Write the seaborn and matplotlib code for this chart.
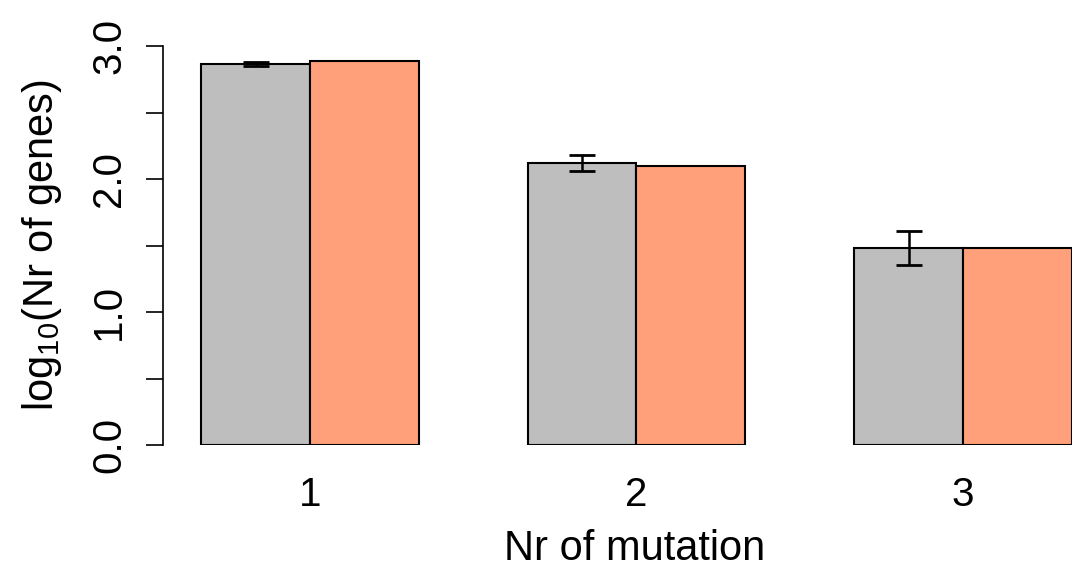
import matplotlib
matplotlib.use("Agg")
import matplotlib.pyplot as plt
import numpy as np
import pandas as pd
import seaborn as sns

# Data (log10 of gene counts)
mutations = ["1", "2", "3"]
groups = ["observed", "expected"]
observed = [2.865, 2.12, 1.48]
observed_err = [0.015, 0.06, 0.13]
expected = [2.887, 2.098, 1.48]
bar_colors = ["#BEBEBE", "#FFA07A"]

sns.set_theme(style="ticks")
plt.rcParams["font.family"] = ["Liberation Sans", "DejaVu Sans"]
plt.rcParams["mathtext.default"] = "regular"
plt.rcParams["text.color"] = "black"
plt.rcParams["axes.labelcolor"] = "black"
plt.rcParams["xtick.color"] = "black"
plt.rcParams["ytick.color"] = "black"

df = pd.DataFrame({
    "mutation": mutations * 2,
    "group": [groups[0]] * 3 + [groups[1]] * 3,
    "value": observed + expected,
})

fig = plt.figure(figsize=(10.72, 5.78), dpi=100)
ax = fig.add_axes([163 / 1072, (578 - 445) / 578, 1 - 163 / 1072, (445 - 46) / 578])

sns.barplot(data=df, x="mutation", y="value", hue="group", order=mutations,
            hue_order=groups, palette=bar_colors, width=2 / 3, errorbar=None,
            edgecolor="black", linewidth=1.5, saturation=1, legend=False, ax=ax)

# error bars on the grey bars, placed from the drawn patches
grey = ax.containers[0]
xs = [p.get_x() + p.get_width() / 2 for p in grey]
ax.errorbar(xs, observed, yerr=observed_err, fmt="none", ecolor="black",
            elinewidth=1.8, capsize=9.5, capthick=2, zorder=5)

ax.set_xlim(-0.45, 2.334)
ax.set_ylim(0, 3)
ax.set_yticks(np.arange(0, 3.01, 0.5))
ax.set_yticklabels(["0.0", "", "1.0", "", "2.0", "", "3.0"])
ax.tick_params(axis="y", labelrotation=90, length=12, width=1.2, pad=13,
               labelsize=29)
ax.tick_params(axis="x", length=0, pad=22, labelsize=29)
for lab in ax.get_yticklabels():
    lab.set_va("center")

ax.set_xlabel("Nr of mutation", fontsize=30)
ax.xaxis.set_label_coords(0.519, -0.21, transform=ax.transAxes)
ax.xaxis.label.set_va("top")
ax.set_ylabel("log$_{10}$(Nr of genes)", fontsize=30, labelpad=19)

for side in ["top", "right", "bottom"]:
    ax.spines[side].set_visible(False)
ax.spines["left"].set_linewidth(1.2)
ax.spines["left"].set_color("black")

fig.savefig("out.png", dpi=100)
